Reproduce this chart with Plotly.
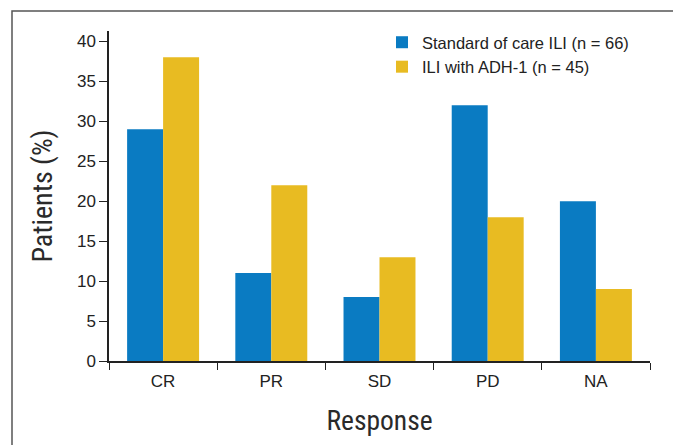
import plotly.graph_objects as go

categories = ["CR", "PR", "SD", "PD", "NA"]
standard_care = [29, 11, 8, 32, 20]
adh1 = [38, 22, 13, 18, 9]
series_names = ["Standard of care ILI (n = 66)", "ILI with ADH-1 (n = 45)"]
y_ticks = [0, 5, 10, 15, 20, 25, 30, 35, 40]

FONT = "Liberation Sans, Arial, Helvetica, sans-serif"
NARROW = "Roboto Condensed, Liberation Sans Narrow, Arial Narrow, sans-serif"

fig = go.Figure()
fig.add_trace(go.Bar(x=categories, y=standard_care, name=series_names[0],
                     marker=dict(color="#0A7BC2", line=dict(width=0))))
fig.add_trace(go.Bar(x=categories, y=adh1, name=series_names[1],
                     marker=dict(color="#E8BB22", line=dict(width=0))))

# page has an 8px body margin; work in page pixels and convert
OFF = 8
W, H = 673, 437
L, R, T, B = 109 - OFF, 31, 31 - OFF, 84
pw, ph = W - L - R, H - T - B

def px_to_paper_x(px):
    return (px - OFF - L) / pw

def px_to_paper_y(py):
    return (H - B - (py - OFF)) / ph

fig.update_layout(
    width=W, height=H,
    margin=dict(l=L, r=R, t=T, b=B),
    paper_bgcolor="white", plot_bgcolor="white",
    barmode="group", bargap=0.335, bargroupgap=0,
    font=dict(family=FONT, color="#222222", size=16),
    showlegend=True,
    legend=dict(x=px_to_paper_x(382), y=px_to_paper_y(25), xanchor="left", yanchor="top",
                bgcolor="rgba(0,0,0,0)", font=dict(size=16.5, family=FONT),
                itemwidth=30, tracegroupgap=0),
    xaxis=dict(
        type="category", showline=True, linecolor="#222222", linewidth=1.5,
        ticks="outside", tickson="boundaries", ticklen=7, tickwidth=1.2, tickcolor="#222222",
        showgrid=False, zeroline=False, ticklabelstandoff=4,
        tickfont=dict(size=17, family=FONT),
        title=dict(text="Response", font=dict(size=27.5, family=NARROW, weight=400, color="#2a2a2a"), standoff=21),
    ),
    yaxis=dict(
        range=[0, 41.3], tickvals=y_ticks, showline=True, linecolor="#222222", linewidth=1.5,
        ticks="outside", ticklen=8, tickwidth=1.2, tickcolor="#222222",
        showgrid=False, zeroline=False,
        tickfont=dict(size=17, family=FONT),
        title=dict(text="Patients (%)", font=dict(size=28, family=NARROW, weight=400, color="#2a2a2a"), standoff=16),
    ),
)

fig.add_shape(type="rect", xref="paper", yref="paper",
              x0=px_to_paper_x(12), x1=px_to_paper_x(676),
              y0=px_to_paper_y(470), y1=px_to_paper_y(11),
              line=dict(color="#555555", width=1.5), fillcolor="rgba(0,0,0,0)", layer="below")

fig.write_html("out.html")
